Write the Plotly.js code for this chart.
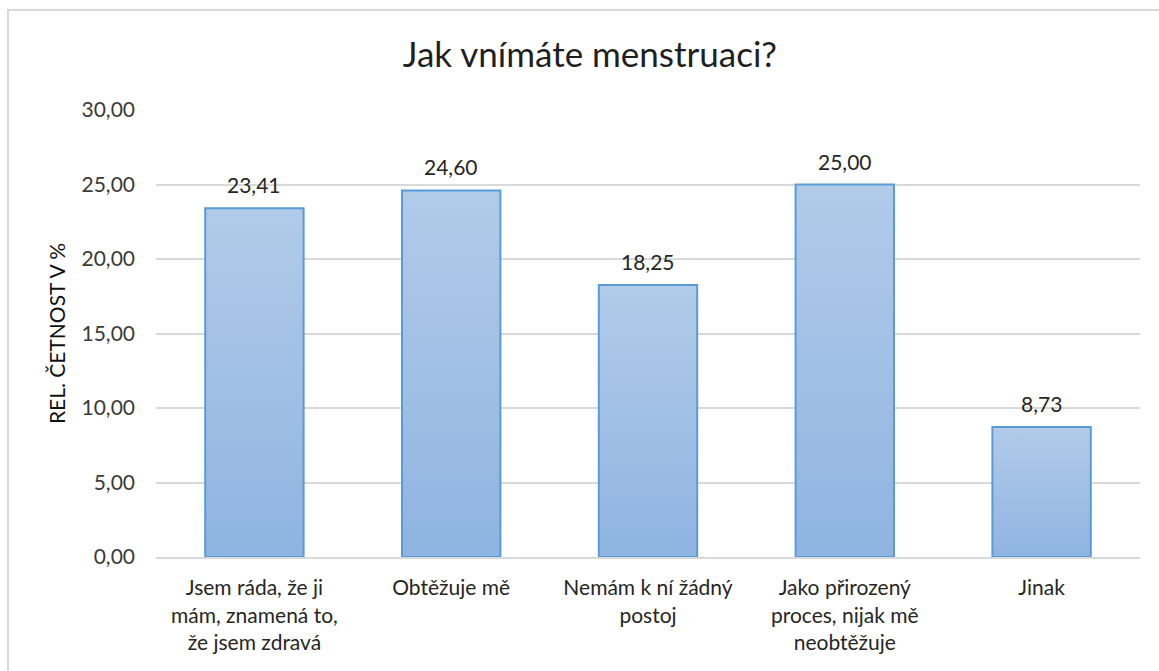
<!DOCTYPE html>
<html>
<head>
<meta charset="utf-8">
<script src="https://cdn.plot.ly/plotly-3.0.1.min.js"></script>
<style>
  html, body { margin: 0; padding: 0; background: #fff; overflow: hidden; }
  #wrap { position: relative; width: 1159px; height: 671px; }
  #chart { width: 1159px; height: 671px; }
  #frame { position: absolute; left: 7px; top: 9px; width: 1200px; height: 720px;
           border: 2px solid #d9d9d9; pointer-events: none; box-sizing: border-box; }
</style>
</head>
<body>
<div id="wrap">
  <div id="chart"></div>
  <div id="frame"></div>
</div>
<script>
const categories = [
  "Jsem ráda, že ji<br>mám, znamená to,<br>že jsem zdravá",
  "Obtěžuje mě",
  "Nemám k ní žádný<br>postoj",
  "Jako přirozený<br>proces, nijak mě<br>neobtěžuje",
  "Jinak"
];
const values = [23.41, 24.60, 18.25, 25.00, 8.73];
const yTickVals = [0, 5, 10, 15, 20, 25, 30];
const yTickText = ["0,00", "5,00", "10,00", "15,00", "20,00", "25,00", "30,00"];
const chartTitle = "Jak vnímáte menstruaci?";
const yTitle = "REL. ČETNOST V %";

const fontFamily = "Lato, 'Open Sans', sans-serif";
const textColor = "#3a3a3a";

const trace = {
  type: "bar",
  x: categories,
  y: values,
  marker: { color: "#a2c0e6", line: { color: "#5b9bd5", width: 2 } },
  hoverinfo: "skip"
};

const annotations = values.map((v, i) => ({
  x: categories[i], y: v, xref: "x", yref: "y",
  text: v.toFixed(2).replace(".", ","),
  showarrow: false, yanchor: "bottom", yshift: 9,
  font: { family: fontFamily, size: 21, color: "#262626" }
}));

const layout = {
  width: 1159, height: 671,
  margin: { l: 156, r: 19, t: 110, b: 114 },
  paper_bgcolor: "#ffffff", plot_bgcolor: "#ffffff",
  bargap: 0.5,
  showlegend: false,
  title: { text: chartTitle, x: 0.509, xref: "container", xanchor: "center",
           y: 0.918, yanchor: "middle",
           font: { family: fontFamily, size: 35, color: "#1f1f1f" } },
  font: { family: fontFamily, size: 21, color: textColor },
  xaxis: {
    tickfont: { family: fontFamily, size: 21, color: "#262626" },
    showgrid: false, showline: true, linecolor: "#d9d9d9", linewidth: 2,
    ticks: "", ticklabelstandoff: 11, automargin: false
  },
  yaxis: {
    range: [0, 30], tickvals: yTickVals, ticktext: yTickText,
    tickfont: { family: fontFamily, size: 21, color: textColor },
    showgrid: true, gridcolor: "#d9d9d9", gridwidth: 2,
    zeroline: false, showline: false, ticks: "",
    ticklabelstandoff: 20, automargin: false,
    title: { text: yTitle, standoff: 10, font: { family: fontFamily, size: 21, color: "#111111" } }
  },
  annotations: annotations
};

Plotly.newPlot("chart", [trace], layout, { displayModeBar: false, staticPlot: true }).then(() => {
  const svg = document.querySelector("#chart svg.main-svg");
  const ns = "http://www.w3.org/2000/svg";
  let defs = svg.querySelector("defs");
  if (!defs) { defs = document.createElementNS(ns, "defs"); svg.insertBefore(defs, svg.firstChild); }
  const grad = document.createElementNS(ns, "linearGradient");
  grad.setAttribute("id", "barGrad");
  grad.setAttribute("x1", "0"); grad.setAttribute("y1", "0");
  grad.setAttribute("x2", "0"); grad.setAttribute("y2", "1");
  [["0", "#b1cbe9"], ["1", "#8fb4e1"]].forEach(([o, c]) => {
    const s = document.createElementNS(ns, "stop");
    s.setAttribute("offset", o); s.setAttribute("stop-color", c);
    grad.appendChild(s);
  });
  defs.appendChild(grad);
  document.querySelectorAll("#chart .bars .point path").forEach(p => {
    p.style.fill = "url(#barGrad)";
  });
});
</script>
</body>
</html>
